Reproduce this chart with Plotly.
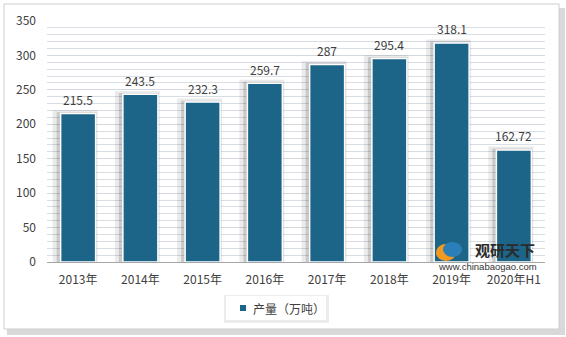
import plotly.graph_objects as go

categories = ["2013年", "2014年", "2015年", "2016年", "2017年", "2018年", "2019年", "2020年H1"]
values = [215.5, 243.5, 232.3, 259.7, 287, 295.4, 318.1, 162.72]
labels = ["215.5", "243.5", "232.3", "259.7", "287", "295.4", "318.1", "162.72"]
series_name = "产量（万吨）"

W, H = 566, 337
L, R, T, B = 47, 21, 21, 75
pw, ph = W - L - R, H - T - B

def px(x):
    return (x - L) / pw

def py(y):
    return (H - B - y) / ph

FONT = "Noto Sans CJK SC, Open Sans, sans-serif"
BAR = "#1c6589"

fig = go.Figure()
xs = list(range(len(categories)))
unit = pw / len(categories)
bw = 35 / unit

# soft shadows under bars
fig.add_trace(go.Bar(x=xs, y=[v + 5 for v in values], width=bw + 10 / unit, offset=-bw / 2 - 8 / unit,
                     marker=dict(color="rgba(0,0,0,0.08)", line=dict(width=0)), showlegend=False, hoverinfo="skip"))
fig.add_trace(go.Bar(x=xs, y=[v + 2 for v in values], width=bw + 5 / unit, offset=-bw / 2 - 4 / unit,
                     marker=dict(color="rgba(0,0,0,0.14)", line=dict(width=0)), showlegend=False, hoverinfo="skip"))
fig.add_trace(go.Bar(x=xs, y=values, width=bw, offset=-bw / 2,
                     marker=dict(color=BAR, line=dict(color="white", width=1.5)), showlegend=False))

annotations = []
for i, (v, t) in enumerate(zip(values, labels)):
    annotations.append(dict(x=i, y=v, xref="x", yref="y", text=t, showarrow=False, yanchor="middle",
                            yshift=14, font=dict(size=12, color="#404040", family=FONT)))

shapes = [
    # outer frame shadow and frame
    dict(type="rect", xref="paper", yref="paper", x0=px(7), x1=px(565), y0=py(8), y1=py(335),
         fillcolor="#d9d9d9", line=dict(width=0), layer="below"),
    dict(type="rect", xref="paper", yref="paper", x0=px(4), x1=px(559), y0=py(4), y1=py(329),
         fillcolor="white", line=dict(color="#cfcfcf", width=1), layer="below"),
    # legend box with shadow
    dict(type="rect", xref="paper", yref="paper", x0=px(224), x1=px(329), y0=py(295), y1=py(323),
         fillcolor="#ececec", line=dict(width=0), layer="below"),
    dict(type="rect", xref="paper", yref="paper", x0=px(226), x1=px(326), y0=py(296), y1=py(320),
         fillcolor="white", line=dict(width=0), layer="below"),
    # legend marker
    dict(type="rect", xref="paper", yref="paper", x0=px(240), x1=px(246), y0=py(305), y1=py(311),
         fillcolor=BAR, line=dict(width=0), layer="above"),
    # logo swirl
    dict(type="circle", xref="paper", yref="paper", x0=px(436), x1=px(456), y0=py(244), y1=py(261),
         fillcolor="#f39a1e", line=dict(width=0), layer="above"),
    dict(type="circle", xref="paper", yref="paper", x0=px(443), x1=px(462), y0=py(242), y1=py(257),
         fillcolor="#2a7fb8", line=dict(width=0), layer="above"),
]

annotations += [
    dict(text=series_name, xref="paper", yref="paper", x=px(251), y=py(308), showarrow=False,
         font=dict(size=12, color="#404040", family=FONT), xanchor="left", yanchor="middle"),
    dict(text="<b>观研天下</b>", xref="paper", yref="paper", x=px(505), y=py(249), showarrow=False,
         font=dict(size=15, color="#2b2b2b", family=FONT), xanchor="center", yanchor="middle"),
    dict(text="www.chinabaogao.com", xref="paper", yref="paper", x=px(487), y=py(266), showarrow=False,
         font=dict(size=9.5, color="#333333", family="Liberation Sans, Arial, sans-serif"),
         xanchor="center", yanchor="middle"),
]

fig.update_layout(
    width=W, height=H,
    margin=dict(l=L, r=R, t=T, b=B),
    paper_bgcolor="white",
    plot_bgcolor="#ecf2f8",
    barmode="overlay",
    font=dict(family=FONT, size=12, color="#404040"),
    shapes=shapes,
    annotations=annotations,
    showlegend=False,
    xaxis=dict(tickmode="array", tickvals=xs, ticktext=categories, range=[-0.5, len(categories) - 0.5],
               showgrid=False, showline=True, linecolor="#a6a6a6", linewidth=1, ticks="",
               tickfont=dict(size=12, color="#404040"), ticklabelstandoff=7, zeroline=False),
    yaxis=dict(range=[0, 350], dtick=50, showgrid=True, gridcolor="#d3d8de", gridwidth=1,
               minor=dict(dtick=10, showgrid=True, gridcolor="#d9dee4", gridwidth=1),
               showline=False, zeroline=False, ticks="", ticklabelstandoff=10,
               tickfont=dict(size=12, color="#404040")),
)

fig.write_html("out.html")
